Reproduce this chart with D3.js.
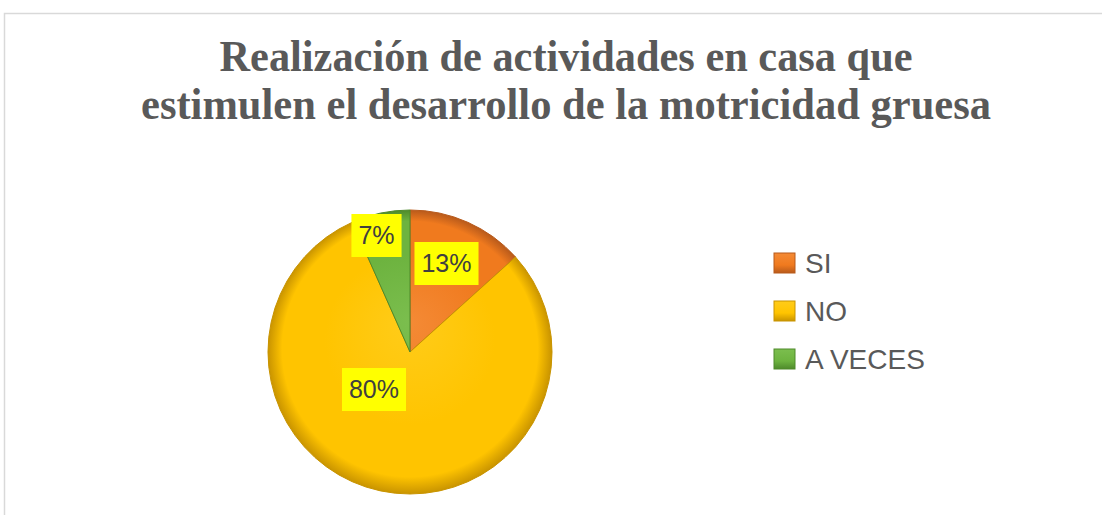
<!DOCTYPE html>
<html><head><meta charset="utf-8">
<script src="https://cdn.jsdelivr.net/npm/d3@7"></script>
<style>body{margin:0;background:#fff;}svg{display:block;}</style>
</head><body>
<script>
const titleLines = ["Realización de actividades en casa que", "estimulen el desarrollo de la motricidad gruesa"];
const categories = ["SI", "NO", "A VECES"];
const counts = [2, 12, 1];
const labels = ["13%", "80%", "7%"];
const colors = ["#F07A1E", "#FFC400", "#6DB33F"];
const darkColors = ["#B85A1B", "#C99400", "#4E8A2B"];
const lightColors = ["#F48A35", "#FFCC1A", "#7BBE4E"];

const W = 1102, H = 515;
const svg = d3.select("body").append("svg").attr("width", W).attr("height", H);
const defs = svg.append("defs");

svg.append("rect").attr("x", 4.5).attr("y", 13.5).attr("width", 1120).attr("height", 600)
  .attr("fill", "#fff").attr("stroke", "#d9d9d9").attr("stroke-width", 1.5);

// Title
const tW = [693, 850];
titleLines.forEach((t, i) => {
  svg.append("text").attr("x", 566).attr("y", 71 + i * 48)
    .attr("text-anchor", "middle")
    .attr("font-family", "Liberation Serif, Times New Roman, serif")
    .attr("font-weight", "bold").attr("font-size", 45).attr("fill", "#595959")
    .attr("textLength", tW[i]).attr("lengthAdjust", "spacingAndGlyphs")
    .text(t);
});

const cx = 410, cy = 352, r = 142;
categories.forEach((c, i) => {
  const g = defs.append("radialGradient").attr("id", "g" + i)
    .attr("gradientUnits", "userSpaceOnUse").attr("cx", 0).attr("cy", 0).attr("r", r)
    .attr("fx", 0).attr("fy", -30);
  g.append("stop").attr("offset", "0%").attr("stop-color", lightColors[i]);
  g.append("stop").attr("offset", "60%").attr("stop-color", colors[i]);
  g.append("stop").attr("offset", "90%").attr("stop-color", colors[i]);
  g.append("stop").attr("offset", "100%").attr("stop-color", darkColors[i]);
  const lg = defs.append("linearGradient").attr("id", "l" + i).attr("x1", 0).attr("y1", 0).attr("x2", 0).attr("y2", 1);
  lg.append("stop").attr("offset", "0%").attr("stop-color", lightColors[i]);
  lg.append("stop").attr("offset", "60%").attr("stop-color", colors[i]);
  lg.append("stop").attr("offset", "100%").attr("stop-color", darkColors[i]);
});

const data = categories.map((c, i) => ({ c, v: counts[i], i }));
const pie = d3.pie().value(d => d.v).sort(null);
const arcs = pie(data);
const arc = d3.arc().innerRadius(0).outerRadius(r);
const g = svg.append("g").attr("transform", `translate(${cx},${cy})`);
g.selectAll("path").data(arcs).join("path")
  .attr("d", arc)
  .attr("fill", d => `url(#g${d.data.i})`)
  .attr("stroke", d => darkColors[d.data.i]).attr("stroke-width", 1);

// Labels
const labelPos = [[446.5, 263], [374, 389], [376.5, 235]];
const lbl = svg.append("g");
arcs.forEach((a) => {
  const i = a.data.i;
  const [x, y] = labelPos[i];
  const t = lbl.append("text").attr("x", x).attr("y", y + 9).attr("text-anchor", "middle")
    .attr("font-family", "Liberation Sans, Arial, sans-serif").attr("font-size", 25)
    .attr("fill", "#404040").text(labels[i]);
  const bb = t.node().getBBox();
  lbl.insert("rect", "text").attr("x", bb.x - 7).attr("y", y - 21).attr("width", bb.width + 14).attr("height", 43)
    .attr("fill", "#FFFF00");
});

// Legend
const leg = svg.append("g");
categories.forEach((c, i) => {
  const y = 263 + i * 48;
  leg.append("rect").attr("x", 774).attr("y", y - 10).attr("width", 21).attr("height", 20)
    .attr("fill", `url(#l${i})`).attr("stroke", darkColors[i]).attr("stroke-width", 1);
  leg.append("text").attr("x", 805).attr("y", y + 10)
    .attr("font-family", "Liberation Sans, Arial, sans-serif").attr("font-size", 28)
    .attr("fill", "#595959").text(c);
});
</script>
</body></html>
